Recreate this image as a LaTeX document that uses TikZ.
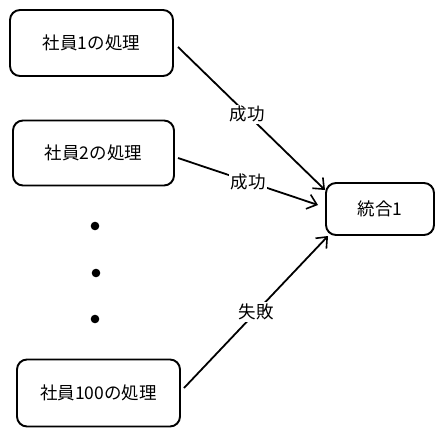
\documentclass[tikz,border=0pt]{standalone}
\usepackage{fontspec}
\setmainfont{Noto Sans CJK JP}
\usetikzlibrary{arrows.meta}
\begin{document}
\begin{tikzpicture}[x=1pt,y=-1pt,
  box/.style={draw,line width=1.9pt,rounded corners=10pt,fill=white,inner sep=0pt,font=\fontsize{17.5}{20}\selectfont},
  conn/.style={line width=1.8pt,-{Straight Barb[length=9pt,width=15pt,line width=1.6pt]}},
  lbl/.style={fill=white,inner sep=1.5pt,font=\fontsize{17.5}{20}\selectfont}]
\useasboundingbox (0,0) rectangle (444,436);
\node[box,minimum width=163pt,minimum height=66pt] (a) at (91.5,43) {社員1の処理};
\node[box,minimum width=161pt,minimum height=65pt] (b) at (93.5,153) {社員2の処理};
\node[box,minimum width=108pt,minimum height=52pt] (c) at (380,209) {統合1};
\node[box,minimum width=163pt,minimum height=67pt] (d) at (98.5,393) {社員100の処理};
\fill (95,226) circle (4.3pt);
\fill (96,273) circle (4.3pt);
\fill (95,319) circle (4.3pt);
\coordinate (ae) at (178,47);
\coordinate (be) at (178,158);
\coordinate (de) at (184,388);
\coordinate (ct1) at (325,190);
\coordinate (ct2) at (318,205);
\coordinate (ct3) at (328,236);
\draw[conn] (ae) -- node[lbl,pos=0.47] {成功} (ct1);
\draw[conn] (be) -- node[lbl,pos=0.5] {成功} (ct2);
\draw[conn] (de) -- node[lbl,pos=0.5] {失敗} (ct3);
\end{tikzpicture}
\end{document}
